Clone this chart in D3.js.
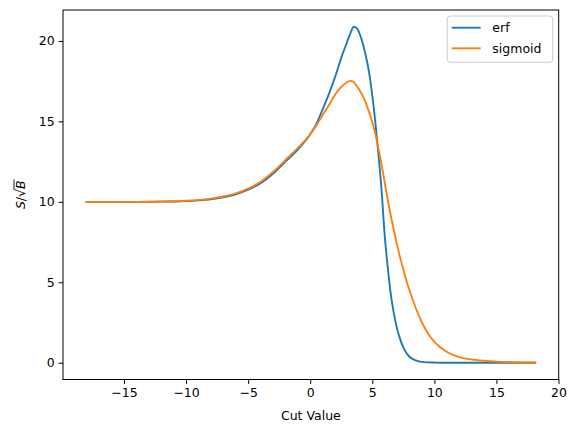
<!DOCTYPE html>
<html>
<head>
<meta charset="utf-8">
<script src="https://cdn.jsdelivr.net/npm/d3@7"></script>
<style>
  body { margin: 0; background: #fff; }
  text { font-family: "DejaVu Sans", sans-serif; }
</style>
</head>
<body>
<script>
// values
const cutValues = [-18.1, -16, -14, -12, -10, -9, -8, -7, -6, -5, -4, -3, -2, -1, 0, 0.5, 1, 1.5, 2, 2.5,
  3, 3.25, 3.5, 3.75, 4, 4.25, 4.5, 4.75, 5, 5.25, 5.5, 5.75, 6, 6.25, 6.5, 6.75, 7, 7.25, 7.5, 7.75,
  8, 8.5, 9, 9.5, 10, 10.5, 11, 11.5, 12, 13, 14, 15, 16, 18.2];
const erfSig = [10.0, 10.0, 10.0, 10.01, 10.05, 10.09, 10.16, 10.28, 10.46, 10.75, 11.15, 11.75, 12.5, 13.25, 14.2, 14.85, 15.75, 16.7, 17.75, 18.95,
  20.0, 20.5, 20.88, 20.8, 20.4, 19.8, 19.0, 18.0, 16.6, 14.9, 12.9, 10.7, 7.9, 5.9, 4.2, 3.0, 2.1, 1.45, 0.95, 0.6,
  0.37, 0.14, 0.05, 0.02, 0.01, 0.0, 0.0, 0.0, 0.0, 0.0, 0.0, 0.0, 0.0, 0.0];
const sigmoidSig = [10.0, 10.0, 10.0, 10.02, 10.07, 10.12, 10.2, 10.33, 10.52, 10.82, 11.25, 11.85, 12.6, 13.35, 14.2, 14.75, 15.4, 16.0, 16.65, 17.15,
  17.45, 17.52, 17.45, 17.2, 16.9, 16.55, 16.1, 15.55, 14.95, 14.2, 13.3, 12.3, 11.2, 10.1, 9.1, 8.2, 7.3, 6.5, 5.8, 5.1,
  4.5, 3.4, 2.5, 1.8, 1.3, 0.95, 0.68, 0.48, 0.35, 0.2, 0.12, 0.07, 0.04, 0.01];
const seriesNames = ["erf", "sigmoid"];
const xTicks = [-15, -10, -5, 0, 5, 10, 15, 20];
const yTicks = [0, 5, 10, 15, 20];

const colors = ["#1f77b4", "#ff7f0e"];
const W = 577, H = 432;
const margin = {top: 10, right: 577 - 558.7, bottom: 432 - 379.5, left: 63};
const fontSize = 12.5;

const svg = d3.select("body").append("svg")
  .attr("width", W).attr("height", H);

// matplotlib style 5% padding on the data range
const xMin = d3.min(cutValues), xMax = d3.max(cutValues);
const xPad = (xMax - xMin) * 0.05;
const x = d3.scaleLinear()
  .domain([xMin - xPad, xMax + xPad])
  .range([margin.left, W - margin.right]);

const allY = erfSig.concat(sigmoidSig);
const yMin = d3.min(allY), yMax = d3.max(allY);
const yPad = (yMax - yMin) * 0.05;
const y = d3.scaleLinear()
  .domain([yMin - yPad, yMax + yPad])
  .range([H - margin.bottom, margin.top]);

const xAxis = g => g
  .attr("transform", `translate(0,${H - margin.bottom})`)
  .call(d3.axisBottom(x).tickValues(xTicks).tickSize(4.4).tickPadding(4))
  .call(g => g.select(".domain").remove())
  .call(g => g.selectAll(".tick line").attr("stroke", "#000").attr("stroke-width", 1))
  .call(g => g.selectAll(".tick text").attr("font-size", fontSize).attr("fill", "#000")
    .attr("font-family", "DejaVu Sans"));

const yAxis = g => g
  .attr("transform", `translate(${margin.left},0)`)
  .call(d3.axisLeft(y).tickValues(yTicks).tickSize(4.4).tickPadding(4))
  .call(g => g.select(".domain").remove())
  .call(g => g.selectAll(".tick line").attr("stroke", "#000").attr("stroke-width", 1))
  .call(g => g.selectAll(".tick text").attr("font-size", fontSize).attr("fill", "#000")
    .attr("font-family", "DejaVu Sans"));

svg.append("g").call(xAxis);
svg.append("g").call(yAxis);

// lines
const series = [erfSig, sigmoidSig];
const line = d3.line()
  .x((d, i) => x(cutValues[i]))
  .y(d => y(d))
  .curve(d3.curveMonotoneX);

svg.append("g")
  .selectAll("path")
  .data(series)
  .join("path")
    .attr("fill", "none")
    .attr("stroke", (d, i) => colors[i])
    .attr("stroke-width", 1.875)
    .attr("stroke-linejoin", "round")
    .attr("d", line);

// frame
svg.append("rect")
  .attr("x", margin.left).attr("y", margin.top)
  .attr("width", W - margin.right - margin.left)
  .attr("height", H - margin.bottom - margin.top)
  .attr("fill", "none").attr("stroke", "#000").attr("stroke-width", 1);

// axis labels
svg.append("text")
  .attr("x", (margin.left + W - margin.right) / 2)
  .attr("y", 420)
  .attr("text-anchor", "middle")
  .attr("font-size", fontSize)
  .text("Cut Value");

const yl = svg.append("g")
  .attr("transform", `translate(25,${(margin.top + H - margin.bottom) / 2}) rotate(-90)`);
const ylt = yl.append("text")
  .attr("text-anchor", "middle")
  .attr("font-size", fontSize);
ylt.append("tspan").attr("font-style", "italic").text("S");
ylt.append("tspan").text("/\u221A");
ylt.append("tspan").attr("font-style", "italic").text("B");
// overline over B, like the mathtext radical
const bStart = ylt.node().getStartPositionOfChar(3).x;
const bEnd = ylt.node().getEndPositionOfChar(3).x;
yl.append("line")
  .attr("x1", bStart - 1).attr("x2", bEnd + 1)
  .attr("y1", -11).attr("y2", -11)
  .attr("stroke", "#000").attr("stroke-width", 0.9);

// legend
const legend = svg.append("g");
legend.append("rect")
  .attr("x", 447.3).attr("y", 16)
  .attr("width", 105.4).attr("height", 46.3)
  .attr("rx", 3)
  .attr("fill", "#fff").attr("fill-opacity", 0.8)
  .attr("stroke", "#cccccc").attr("stroke-width", 1);

const items = legend.selectAll("g.item")
  .data(seriesNames)
  .join("g")
    .attr("class", "item")
    .attr("transform", (d, i) => `translate(0,${27.7 + i * 20.6})`);
items.append("line")
  .attr("x1", 451.7).attr("x2", 480.7)
  .attr("stroke", (d, i) => colors[i])
  .attr("stroke-width", 1.875);
items.append("text")
  .attr("x", 492.3).attr("y", 4.4)
  .attr("font-size", fontSize)
  .text(d => d);
</script>
</body>
</html>
